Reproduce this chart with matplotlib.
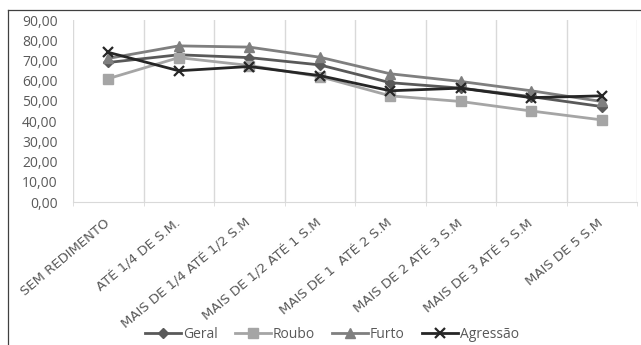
import matplotlib
matplotlib.use("Agg")
import matplotlib.pyplot as plt
from matplotlib.lines import Line2D
from matplotlib.ticker import FuncFormatter

categorias = ["SEM REDIMENTO", "ATÉ 1/4 DE S.M.", "MAIS DE 1/4 ATÉ 1/2 S.M",
              "MAIS DE 1/2 ATÉ 1 S.M", "MAIS DE 1  ATÉ 2 S.M", "MAIS DE 2 ATÉ 3 S.M",
              "MAIS DE 3 ATÉ 5 S.M", "MAIS DE 5 S.M"]
geral = [69.0, 72.8, 71.4, 67.8, 59.0, 56.3, 52.1, 47.2]
roubo = [61.0, 71.4, 67.5, 62.0, 52.5, 49.7, 45.0, 40.6]
furto = [71.0, 77.2, 76.6, 71.6, 63.4, 59.6, 55.0, 49.7]
agressao = [74.0, 64.9, 67.0, 62.5, 55.0, 56.3, 51.6, 52.5]

plt.rcParams['font.family'] = ['Open Sans', 'DejaVu Sans']
cinza_txt = '#595959'
cinza_grade = '#D9D9D9'

fig = plt.figure(figsize=(6.41, 3.45), dpi=100)
ax = fig.add_axes([73 / 641, 1 - 202 / 345, (637 - 73) / 641, (202 - 20) / 345])

x = list(range(len(categorias)))
series = [
    (geral, 'Geral', '#595959', 'D', 5.5),
    (roubo, 'Roubo', '#A5A5A5', 's', 6.5),
    (furto, 'Furto', '#7F7F7F', '^', 7),
    (agressao, 'Agressão', '#262626', 'x', 7.5),
]
for vals, nome, cor, mk, ms in series:
    ax.plot(x, vals, color=cor, lw=2.0, marker=mk, markersize=ms,
            markeredgewidth=1.6 if mk == 'x' else 1.0, label=nome)

ax.set_xlim(-0.5, len(categorias) - 0.5)
ax.set_ylim(0, 90)
ax.set_yticks(range(0, 91, 10))
ax.yaxis.set_major_formatter(FuncFormatter(lambda v, p: f"{v:.2f}".replace('.', ',')))
ax.set_xticks(x)
ax.set_xticklabels(categorias, rotation=40, ha='right', va='center',
                   rotation_mode='anchor', fontsize=9.5, color=cinza_txt,
                   family=['DejaVu Sans'])
ax.set_xticks([i - 0.5 for i in range(len(categorias) + 1)], minor=True)
ax.tick_params(axis='x', which='major', length=0, pad=14)
ax.tick_params(axis='x', which='minor', length=3, color=cinza_grade)
ax.tick_params(axis='y', length=0, pad=11, labelsize=10, labelcolor=cinza_txt)
ax.grid(True, axis='x', which='minor', color=cinza_grade, lw=1)
ax.set_axisbelow(True)
for s in ['top', 'right', 'left']:
    ax.spines[s].set_visible(False)
ax.spines['bottom'].set_color(cinza_grade)

fig.legend(loc='center', bbox_to_anchor=(332 / 641, 1 - 334 / 345), ncol=4,
           frameon=False, fontsize=10, labelcolor=cinza_txt, handlelength=2.6,
           columnspacing=1.2, handletextpad=0.15)

# moldura do gráfico (só esquerda e topo aparecem)
fig.add_artist(Line2D([8 / 641, 8 / 641], [0, 1 - 10 / 345], color='#404040', lw=0.9))
fig.add_artist(Line2D([8 / 641, 1], [1 - 10 / 345, 1 - 10 / 345], color='#404040', lw=0.9))

fig.savefig('out.png', dpi=100)
